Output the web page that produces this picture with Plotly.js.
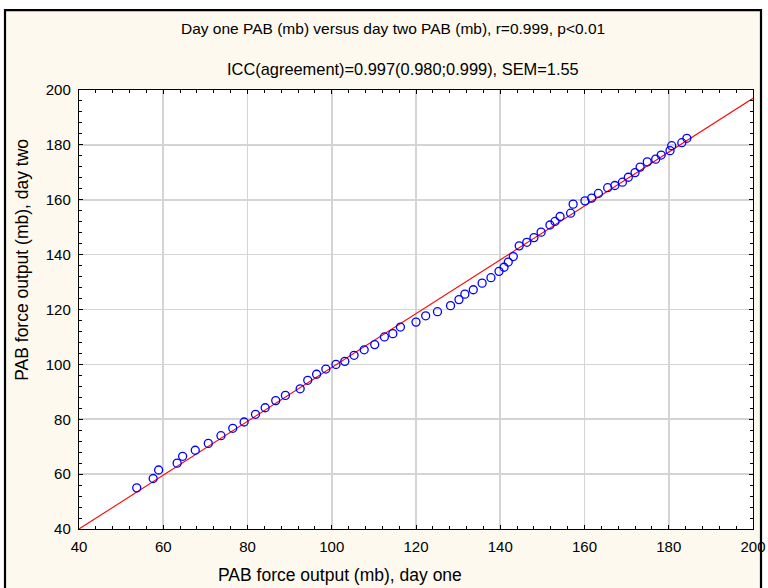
<!DOCTYPE html>
<html>
<head>
<meta charset="utf-8">
<script src="https://cdn.plot.ly/plotly-3.0.1.min.js"></script>
<style>html,body{margin:0;padding:0;background:#fff;}#chart{width:768px;height:588px;}</style>
</head>
<body>
<div id="chart"></div>
<script>
// Data
const dayOne = [53.7, 57.6, 58.9, 63.3, 64.6, 67.6, 70.7, 73.7, 76.5, 79.2,
  81.9, 84.2, 86.7, 89.0, 92.5, 94.3, 96.4, 98.6, 101.0, 103.1,
  105.3, 107.7, 110.2, 112.5, 114.5, 116.3, 120.0, 122.3, 125.1, 128.2,
  130.2, 131.6, 133.6, 135.7, 137.8, 139.7, 140.9, 141.9, 143.1, 144.5,
  146.3, 148.0, 149.7, 151.8, 153.0, 154.2, 156.7, 157.3, 160.1, 161.7,
  163.3, 165.5, 167.2, 169.0, 170.4, 172.0, 173.2, 174.9, 176.9, 178.2,
  180.3, 180.7, 183.1, 184.3];
const dayTwo = [55.0, 58.4, 61.5, 64.0, 66.5, 68.7, 71.2, 74.0, 76.7, 79.0,
  81.8, 84.2, 86.8, 88.7, 91.1, 94.2, 96.4, 98.3, 100.0, 101.1,
  103.3, 105.3, 107.2, 110.0, 111.2, 113.6, 115.4, 117.7, 119.2, 121.4,
  123.6, 125.6, 127.2, 129.6, 131.6, 133.9, 135.4, 137.3, 139.3, 143.2,
  144.5, 146.2, 148.2, 150.8, 152.1, 153.9, 155.1, 158.4, 159.6, 160.6,
  162.3, 164.4, 165.2, 166.4, 168.2, 169.9, 171.9, 173.8, 174.8, 176.3,
  177.9, 179.7, 180.8, 182.4];
const fitIntercept = 0.77;
const fitSlope = 0.981;
const axisRange = [40, 200];
const tickValues = [40, 60, 80, 100, 120, 140, 160, 180, 200];
const tickLabels = ["40", "60", "80", "100", "120", "140", "160", "180", "200"];
const titleLine1 = "Day one PAB (mb) versus day two PAB (mb), r=0.999, p<0.01";
const titleLine2 = "ICC(agreement)=0.997(0.980;0.999), SEM=1.55";
const xTitle = "PAB force output (mb), day one";
const yTitle = "PAB force output (mb), day two";

// layout geometry (pixels)
const W = 768, H = 588;
const L = 79, R = 753, T = 90, B = 529.5;
const px = v => (v - L) / (R - L);
const py = v => (B - v) / (B - T);

const fitX = axisRange.slice();
const fitY = fitX.map(x => fitIntercept + fitSlope * x);

const font = "Liberation Sans, Arial, sans-serif";

const traces = [
  {
    x: fitX, y: fitY, mode: "lines", type: "scatter",
    line: {color: "#ff0000", width: 1.1}, hoverinfo: "skip", showlegend: false
  },
  {
    x: dayOne, y: dayTwo, mode: "markers", type: "scatter",
    marker: {symbol: "circle-open", size: 8, color: "#0000ff", line: {width: 1.3, color: "#0000ff"}},
    showlegend: false
  }
];

const axisCommon = {
  range: axisRange,
  tickvals: tickValues,
  ticktext: tickLabels,
  ticks: "inside",
  ticklen: 4,
  tickcolor: "#000",
  tickwidth: 1,
  showline: true,
  linecolor: "#000",
  linewidth: 1.2,
  mirror: "allticks",
  showgrid: true,
  gridcolor: "#d4d4d4",
  gridwidth: 1.6,
  zeroline: false,
  tickfont: {family: font, size: 15, color: "#000"},
  minor: {dtick: 4, ticks: "inside", ticklen: 3, tickcolor: "#000", showgrid: false},
  fixedrange: true
};

const layout = {
  width: W, height: H,
  margin: {l: L, r: W - R, t: T, b: H - B, pad: 0},
  paper_bgcolor: "#ffffff",
  plot_bgcolor: "#ffffff",
  showlegend: false,
  xaxis: Object.assign({}, axisCommon, {ticklabelstandoff: 4}),
  yaxis: Object.assign({}, axisCommon, {ticklabelstandoff: 4}),
  shapes: [
    {type: "rect", xref: "paper", yref: "paper", layer: "below",
      x0: px(5), x1: px(761), y0: py(620), y1: py(10),
      fillcolor: "#fdf9ee", line: {color: "#000", width: 2.2}},
    {type: "rect", xref: "paper", yref: "paper", layer: "below",
      x0: 0, x1: 1, y0: 0, y1: 1,
      fillcolor: "#ffffff", line: {width: 0}}
  ],
  annotations: [
    {text: titleLine1, xref: "paper", yref: "paper", x: px(393), y: py(28),
      showarrow: false, xanchor: "center", yanchor: "middle",
      font: {family: font, size: 15.5, color: "#000"}},
    {text: titleLine2, xref: "paper", yref: "paper", x: px(403), y: py(69),
      showarrow: false, xanchor: "center", yanchor: "middle",
      font: {family: font, size: 16.4, color: "#000"}},
    {text: xTitle, xref: "paper", yref: "paper", x: px(340), y: py(576),
      showarrow: false, xanchor: "center", yanchor: "middle",
      font: {family: font, size: 17.5, color: "#000"}},
    {text: yTitle, xref: "paper", yref: "paper", x: px(22), y: py(260),
      showarrow: false, xanchor: "center", yanchor: "middle", textangle: -90,
      font: {family: font, size: 17.5, color: "#000"}}
  ]
};

Plotly.newPlot("chart", traces, layout, {displayModeBar: false, staticPlot: true});
</script>
</body>
</html>
